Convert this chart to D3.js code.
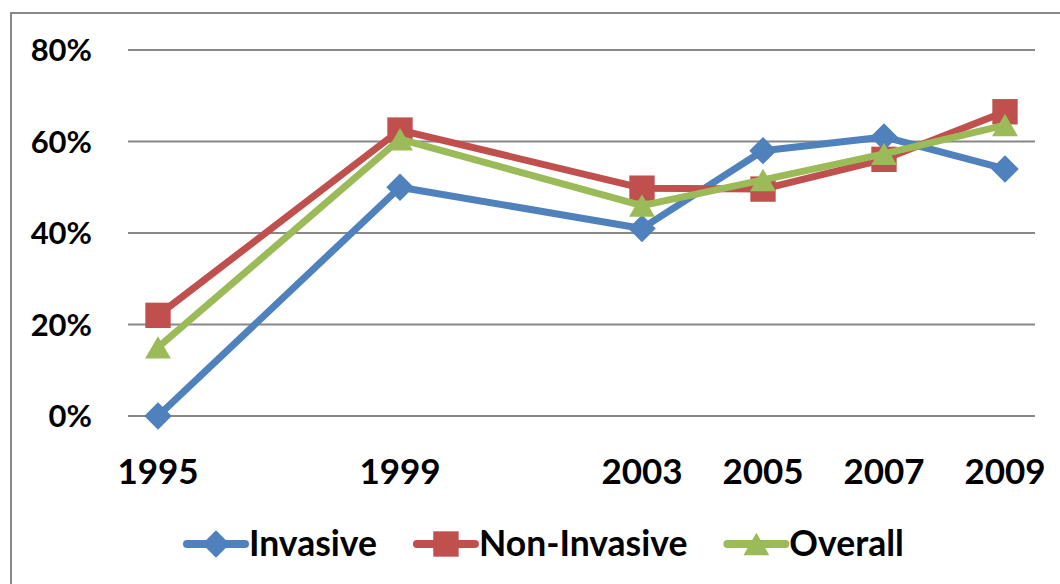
<!DOCTYPE html>
<html>
<head>
<meta charset="utf-8">
<script src="https://cdn.jsdelivr.net/npm/d3@7"></script>
<style>
  body { margin: 0; background: #fff; }
  text { font-family: Lato, "Open Sans", sans-serif; font-weight: bold; fill: #000; }
</style>
</head>
<body>
<div id="chart"></div>
<script>
const years = [1995, 1999, 2003, 2005, 2007, 2009];
const invasive = [0.00, 0.50, 0.41, 0.58, 0.61, 0.54];
const nonInvasive = [0.22, 0.625, 0.498, 0.496, 0.561, 0.665];
const overall = [0.15, 0.605, 0.46, 0.516, 0.573, 0.636];
const yTicks = [0, 0.2, 0.4, 0.6, 0.8];
const seriesNames = ["Invasive", "Non-Invasive", "Overall"];

(function drawChart() {
  let width = 1060,
    height = 584;

  const series = [
    { name: seriesNames[0], values: invasive, color: "#4F81BD", shape: "diamond" },
    { name: seriesNames[1], values: nonInvasive, color: "#C0504D", shape: "square" },
    { name: seriesNames[2], values: overall, color: "#9BBB59", shape: "triangle" }
  ];

  const svg = d3.select("#chart")
    .append("svg")
    .attr("width", width)
    .attr("height", height);

  // outer frame, runs off the right and bottom edges
  svg.append("rect")
    .attr("x", 11).attr("y", 13)
    .attr("width", width + 20).attr("height", height + 20)
    .attr("fill", "none")
    .attr("stroke", "#888")
    .attr("stroke-width", 2);

  let x = d3.scaleLinear()
    .domain([1995, 2009])
    .range([158, 1005]);

  let y = d3.scaleLinear()
    .domain([0, 0.8])
    .range([416, 50]);

  // gridlines + y labels
  svg.append("g")
    .selectAll("line")
    .data(yTicks)
    .join("line")
    .attr("x1", 128).attr("x2", 1035)
    .attr("y1", d => y(d)).attr("y2", d => y(d))
    .attr("stroke", "#888")
    .attr("stroke-width", 2);

  svg.append("g")
    .selectAll("text")
    .data(yTicks)
    .join("text")
    .attr("x", 92)
    .attr("y", d => y(d) + 11)
    .attr("text-anchor", "end")
    .attr("font-size", 31)
    .text(d3.format(".0%"));

  svg.append("g")
    .selectAll("text")
    .data(years)
    .join("text")
    .attr("x", d => x(d))
    .attr("y", 484)
    .attr("text-anchor", "middle")
    .attr("font-size", 35)
    .text(d => d);

  const symbols = {
    diamond: d3.symbol().type(d3.symbolDiamond2).size(480),
    square: d3.symbol().type(d3.symbolSquare2).size(820),
    triangle: d3.symbol().type(d3.symbolTriangle2).size(480)
  };
  const triShift = Math.sqrt(480) * 0.6824 / 4;

  let line = d3.line()
    .x((d, i) => x(years[i]))
    .y(d => y(d));

  for (let s of series) {
    let g = svg.append("g").attr("class", "series");

    g.append("path")
      .datum(s.values)
      .attr("fill", "none")
      .attr("stroke", s.color)
      .attr("stroke-width", 7)
      .attr("stroke-linejoin", "round")
      .attr("d", line);

    g.selectAll(".marker")
      .data(s.values)
      .join("path")
      .attr("class", "marker")
      .attr("transform", (d, i) => `translate(${x(years[i])},${y(d) + (s.shape === "triangle" ? triShift : 0)})`)
      .attr("d", symbols[s.shape])
      .attr("fill", s.color);
  }

  // legend
  let lx = 187;
  const ly = 544;
  for (let s of series) {
    let g = svg.append("g").attr("transform", `translate(${lx},${ly})`);
    g.append("line")
      .attr("x1", 0).attr("x2", 58)
      .attr("stroke", s.color)
      .attr("stroke-width", 8)
      .attr("stroke-linecap", "round");
    g.append("path")
      .attr("transform", `translate(29,${s.shape === "triangle" ? triShift : 0})`)
      .attr("d", symbols[s.shape])
      .attr("fill", s.color);
    let t = g.append("text")
      .attr("x", 62)
      .attr("y", 12)
      .attr("font-size", 35.5)
      .text(s.name);
    lx += 62 + t.node().getComputedTextLength() + 40;
  }
})();
</script>
</body>
</html>
